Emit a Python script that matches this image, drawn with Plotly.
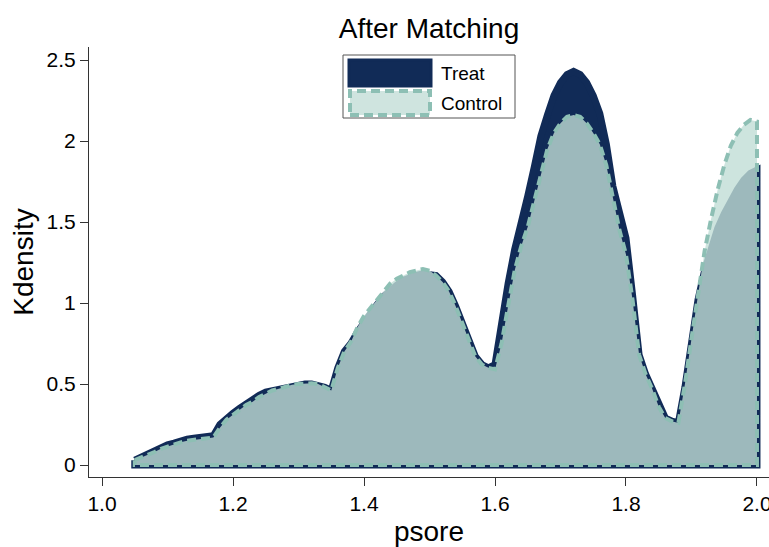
import plotly.graph_objects as go

psore = [1.05, 1.06, 1.07, 1.08, 1.09, 1.10, 1.11, 1.12, 1.13, 1.14, 1.15, 1.16, 1.17, 1.18, 1.19,
         1.20, 1.21, 1.22, 1.23, 1.24, 1.25, 1.26, 1.27, 1.28, 1.29, 1.30, 1.31, 1.32, 1.33, 1.34,
         1.35, 1.36, 1.37, 1.38, 1.39, 1.40, 1.41, 1.42, 1.43, 1.44, 1.45, 1.46, 1.47, 1.48, 1.49,
         1.50, 1.51, 1.52, 1.53, 1.54, 1.55, 1.56, 1.57, 1.58, 1.59, 1.60, 1.61, 1.62, 1.63, 1.64,
         1.65, 1.66, 1.67, 1.68, 1.69, 1.70, 1.71, 1.72, 1.73, 1.74, 1.75, 1.76, 1.77, 1.78, 1.79,
         1.80, 1.81, 1.82, 1.83, 1.84, 1.85, 1.86, 1.87, 1.88, 1.89, 1.90, 1.91, 1.92, 1.93, 1.94,
         1.95, 1.96, 1.97, 1.98, 1.99, 2.00]

treat = [0.03, 0.05, 0.07, 0.09, 0.11, 0.125, 0.135, 0.15, 0.16, 0.165, 0.17, 0.175, 0.18, 0.25, 0.29,
         0.32, 0.35, 0.38, 0.40, 0.43, 0.45, 0.46, 0.47, 0.48, 0.49, 0.495, 0.50, 0.50, 0.495, 0.48,
         0.46, 0.60, 0.70, 0.75, 0.82, 0.88, 0.94, 0.99, 1.04, 1.08, 1.11, 1.14, 1.16, 1.17, 1.18,
         1.18, 1.17, 1.13, 1.07, 0.98, 0.88, 0.77, 0.67, 0.62, 0.60, 0.62, 0.90, 1.12, 1.33, 1.52,
         1.66, 1.84, 2.03, 2.16, 2.28, 2.36, 2.41, 2.43, 2.41, 2.36, 2.28, 2.17, 1.98, 1.72, 1.56,
         1.40, 1.05, 0.68, 0.56, 0.47, 0.36, 0.29, 0.27, 0.26, 0.48, 0.75, 1.02, 1.20, 1.35, 1.46,
         1.55, 1.63, 1.70, 1.76, 1.80, 1.82]

control = [0.03, 0.045, 0.06, 0.08, 0.10, 0.115, 0.125, 0.14, 0.15, 0.155, 0.16, 0.165, 0.17, 0.23, 0.28,
           0.31, 0.34, 0.37, 0.39, 0.42, 0.44, 0.46, 0.47, 0.485, 0.495, 0.50, 0.505, 0.505, 0.50, 0.48,
           0.46, 0.60, 0.70, 0.76, 0.85, 0.92, 0.97, 1.02, 1.07, 1.12, 1.15, 1.17, 1.19, 1.20, 1.21,
           1.20, 1.17, 1.13, 1.07, 0.98, 0.88, 0.77, 0.67, 0.62, 0.60, 0.59, 0.75, 0.98, 1.20, 1.35,
           1.47, 1.63, 1.80, 1.95, 2.05, 2.11, 2.15, 2.16, 2.15, 2.11, 2.05, 1.98, 1.85, 1.64, 1.45,
           1.30, 1.02, 0.68, 0.56, 0.47, 0.36, 0.29, 0.27, 0.26, 0.50, 0.78, 1.07, 1.32, 1.52, 1.70,
           1.85, 1.97, 2.05, 2.10, 2.13, 2.12]

x_ticks = [1.0, 1.2, 1.4, 1.6, 1.8, 2.0]
x_tick_labels = ["1.0", "1.2", "1.4", "1.6", "1.8", "2.0"]
y_ticks = [0, 0.5, 1, 1.5, 2, 2.5]
y_tick_labels = ["0", "0.5", "1", "1.5", "2", "2.5"]
series_names = ["Treat", "Control"]

NAVY = "#112b57"
TEAL_LINE = "#8dbfb4"
TEAL_FILL = "rgba(193,221,214,0.80)"
TEAL_SWATCH = "#cfe4df"
FONT = "Liberation Sans, Arial, sans-serif"


def closed(xs, ys):
    # close the density polygon down to the baseline
    return list(xs) + [xs[-1], xs[0], xs[0]], list(ys) + [0, 0, ys[0]]


tx, ty = closed(psore, treat)
cx, cy = closed(psore, control)

fig = go.Figure()
fig.add_trace(go.Scatter(
    x=tx, y=ty, mode="lines", fill="toself", fillcolor=NAVY,
    line=dict(color=NAVY, width=7), name=series_names[0], showlegend=False,
    hoverinfo="skip"))
fig.add_trace(go.Scatter(
    x=cx, y=cy, mode="lines", fill="toself", fillcolor=TEAL_FILL,
    line=dict(color=TEAL_LINE, width=4, dash="9px,5px"), name=series_names[1],
    showlegend=False, hoverinfo="skip"))

W, H = 769, 547
L, R, T, B = 89, 0, 47, 547 - 477
PW, PH = W - L - R, H - T - B


def px(xp):
    return (xp - L) / PW


def py(yp):
    return (H - B - yp) / PH


shapes = [
    # legend box
    dict(type="rect", xref="paper", yref="paper", x0=px(343), x1=px(515), y0=py(118), y1=py(55),
         line=dict(color="#555555", width=1), fillcolor="white", layer="above"),
    dict(type="rect", xref="paper", yref="paper", x0=px(349), x1=px(431), y0=py(86), y1=py(60),
         line=dict(color=NAVY, width=3), fillcolor=NAVY, layer="above"),
    dict(type="rect", xref="paper", yref="paper", x0=px(350), x1=px(430), y0=py(115), y1=py(91),
         line=dict(color=TEAL_LINE, width=4, dash="9px,5px"), fillcolor=TEAL_SWATCH, layer="above"),
]
annotations = [
    dict(text=series_names[0], xref="paper", yref="paper", x=px(439), y=py(73), xanchor="left",
         yanchor="middle", showarrow=False, font=dict(family=FONT, size=19, color="black")),
    dict(text=series_names[1], xref="paper", yref="paper", x=px(439), y=py(103), xanchor="left",
         yanchor="middle", showarrow=False, font=dict(family=FONT, size=19, color="black")),
]

fig.update_layout(
    width=W, height=H,
    margin=dict(l=L, r=R, t=T, b=B, autoexpand=False),
    paper_bgcolor="white", plot_bgcolor="white",
    font=dict(family=FONT, color="black"),
    title=dict(text="After Matching", x=0.5, xref="paper", y=1 - 28 / H, yref="container",
               yanchor="middle", font=dict(family=FONT, size=28, color="black")),
    shapes=shapes, annotations=annotations,
    showlegend=False,
)
fig.update_xaxes(
    range=[1 - 13 / 654, 1 + 666 / 654], tickvals=x_ticks, ticktext=x_tick_labels,
    showgrid=False, zeroline=False, showline=True, linecolor="#333333", linewidth=1,
    ticks="outside", ticklen=8, tickcolor="#333333", tickfont=dict(size=21),
    ticklabeloverflow="allow", automargin=False,
    title=dict(text="psore", font=dict(size=28), standoff=8),
)
fig.update_yaxes(
    range=[-12 / 162, 418 / 162], tickvals=y_ticks, ticktext=y_tick_labels,
    showgrid=False, zeroline=False, showline=True, linecolor="#333333", linewidth=1,
    ticks="outside", ticklen=8, tickcolor="#333333", tickfont=dict(size=21),
    automargin=False,
    title=dict(text="Kdensity", font=dict(size=28), standoff=4),
)

# remove the default page margin so the figure sits at the window's top-left corner
fig.write_html(
    "out.html",
    config={"displayModeBar": False},
    post_script="document.body.style.margin='0';document.body.style.overflow='hidden';",
)
